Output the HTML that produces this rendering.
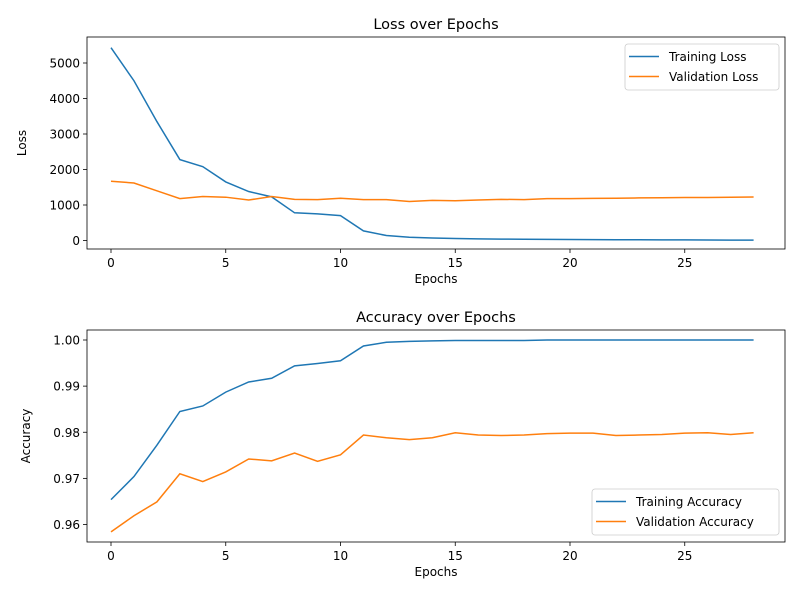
<!DOCTYPE html>
<html><head><meta charset="utf-8"><style>
body{margin:0;background:#fff;font-family:"Liberation Sans","DejaVu Sans",sans-serif}
svg text{font-family:"DejaVu Sans","Liberation Sans",sans-serif}
</style></head><body>
<svg id="c" width="800" height="600" viewBox="0 0 800 600"></svg>
<script>
const epochs=[0,1,2,3,4,5,6,7,8,9,10,11,12,13,14,15,16,17,18,19,20,21,22,23,24,25,26,27,28];
const trainLoss=[5430,4500,3350,2280,2080,1650,1380,1230,780,750,700,270,140,90,70,55,45,40,35,30,28,25,22,20,18,16,14,12,12];
const valLoss=[1670,1620,1400,1180,1240,1220,1140,1240,1160,1150,1190,1150,1150,1100,1130,1120,1140,1160,1150,1180,1180,1185,1190,1200,1205,1210,1210,1220,1225];
const trainAcc=[0.9654,0.9704,0.9772,0.9845,0.9857,0.9887,0.9909,0.9917,0.9944,0.9949,0.9955,0.9987,0.9995,0.9997,0.9998,0.9999,0.9999,0.9999,0.9999,1.0,1.0,1.0,1.0,1.0,1.0,1.0,1.0,1.0,1.0];
const valAcc=[0.9584,0.9619,0.9649,0.9710,0.9693,0.9714,0.9742,0.9738,0.9755,0.9737,0.9751,0.9794,0.9788,0.9784,0.9788,0.9799,0.9794,0.9793,0.9794,0.9797,0.9798,0.9798,0.9793,0.9794,0.9795,0.9798,0.9799,0.9795,0.9799];
const xTicks=[0,5,10,15,20,25];
const lossTicks=[0,1000,2000,3000,4000,5000];
const accTicks=[0.96,0.97,0.98,0.99,1.00];

const svg=document.getElementById('c');
const NS='http://www.w3.org/2000/svg';
function mk(tag,attrs,parent){const e=document.createElementNS(NS,tag);for(const k in attrs)e.setAttribute(k,attrs[k]);(parent||svg).appendChild(e);return e;}
function txt(s,attrs,parent){const e=mk('text',attrs,parent);e.textContent=s;return e;}
const X0=87,X1=785;
const xs=v=>111+v*22.95;

function panel(cfg){
  const g=mk('g',{});
  
  
  const ys=v=>cfg.y0px+(v-cfg.v0)*(cfg.y1px-cfg.y0px)/(cfg.v1-cfg.v0);
  const T=cfg.top,B=cfg.bottom;
  const t=txt(cfg.title,{x:(X0+X1)/2,y:T-8,'text-anchor':'middle','font-size':14.5,fill:'#000'},g);
  
  xTicks.forEach(v=>{const x=xs(v);mk('line',{x1:x,x2:x,y1:B,y2:B+4,stroke:'#000','stroke-width':0.8},g);
    txt(String(v),{x:x,y:B+18,'text-anchor':'middle','font-size':12},g);});
  cfg.ticks.forEach(v=>{const y=ys(v);mk('line',{x1:X0-4,x2:X0,y1:y,y2:y,stroke:'#000','stroke-width':0.8},g);
    txt(cfg.fmt(v),{x:X0-7,y:y+4.5,'text-anchor':'end','font-size':12},g);});
  const xl=txt('Epochs',{x:(X0+X1)/2,y:B+34,'text-anchor':'middle','font-size':12},g);
  
  const yl=txt(cfg.ylabel,{x:0,y:0,'text-anchor':'middle','font-size':12,transform:`translate(${cfg.ylx},${(T+B)/2}) rotate(-90)`},g);
  
  const cols=['#1f77b4','#ff7f0e'];
  cfg.series.forEach((s,i)=>{const p=mk('polyline',{points:s.map((v,j)=>xs(epochs[j])+','+ys(v)).join(' '),fill:'none',stroke:cols[i],'stroke-width':1.5},g);
    });
  mk('rect',{x:X0,y:T,width:X1-X0,height:B-T,fill:'none',stroke:'#000','stroke-width':0.8},g);
  const L=mk('g',{},g);
  mk('rect',{x:cfg.lx,y:cfg.ly,width:cfg.lw,height:46,rx:3,fill:'#fff',stroke:'#ccc','stroke-width':0.8},L);
  cfg.labels.forEach((lab,i)=>{const y=cfg.ly+12.5+i*20;
    mk('line',{x1:cfg.lx+4,x2:cfg.lx+34,y1:y,y2:y,stroke:cols[i],'stroke-width':1.5},L);
    const e=txt(lab,{x:cfg.lx+44,y:y+4.5,'font-size':12},L);});
}
panel({name:'loss-panel',title:'Loss over Epochs',top:37,bottom:249,v0:0,v1:5000,y0px:240.5,y1px:63,ticks:lossTicks,fmt:v=>String(v),ylabel:'Loss',ylx:26,
  series:[trainLoss,valLoss],snames:['training-loss','validation-loss'],labels:['Training Loss','Validation Loss'],lx:625,ly:44,lw:154});
panel({name:'accuracy-panel',title:'Accuracy over Epochs',top:330,bottom:542,v0:0.96,v1:1.0,y0px:524.5,y1px:340,ticks:accTicks,fmt:v=>v.toFixed(2),ylabel:'Accuracy',ylx:30,
  series:[trainAcc,valAcc],snames:['training-accuracy','validation-accuracy'],labels:['Training Accuracy','Validation Accuracy'],lx:592,ly:489,lw:187});
</script>
</body></html>
